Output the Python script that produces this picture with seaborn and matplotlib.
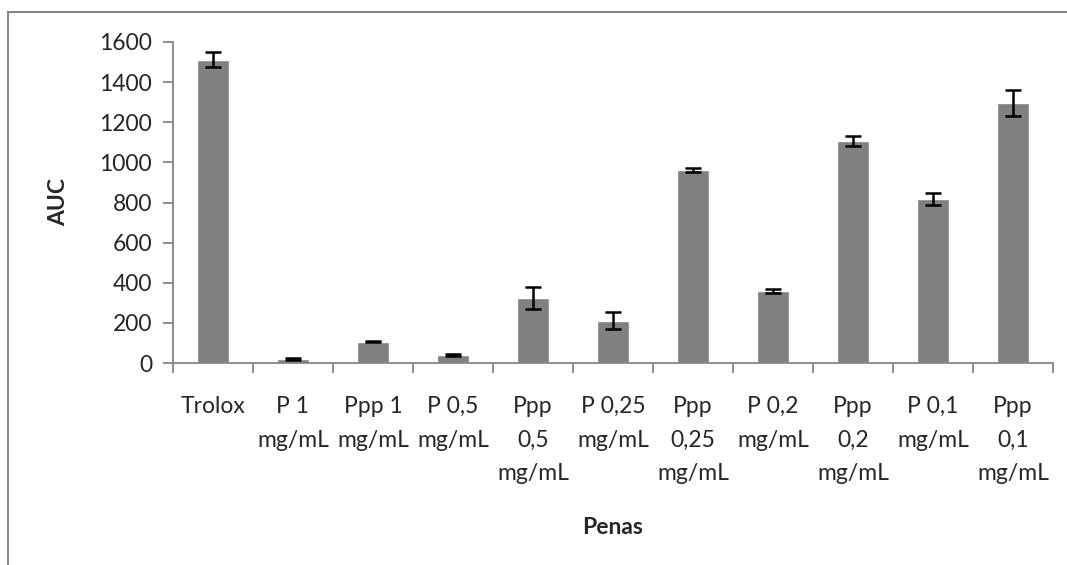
import matplotlib
matplotlib.use("Agg")
import matplotlib.pyplot as plt
import seaborn as sns
import pandas as pd
from matplotlib.patches import Rectangle

categories = ["Trolox", "P 1\nmg/mL", "Ppp 1\nmg/mL", "P 0,5\nmg/mL", "Ppp\n0,5\nmg/mL",
              "P 0,25\nmg/mL", "Ppp\n0,25\nmg/mL", "P 0,2\nmg/mL", "Ppp\n0,2\nmg/mL",
              "P 0,1\nmg/mL", "Ppp\n0,1\nmg/mL"]
auc = [1512, 20, 107, 42, 325, 211, 962, 359, 1107, 817, 1295]
auc_err = [37, 4, 4, 5, 55, 42, 10, 8, 25, 28, 66]
yticks = [0, 200, 400, 600, 800, 1000, 1200, 1400, 1600]

sns.set_style("white")
plt.rcParams['font.family'] = ['Lato', 'DejaVu Sans']

fig = plt.figure(figsize=(10.67, 5.65), dpi=100)
ax = fig.add_axes([173/1067, 1-363/565, (1053-173)/1067, (363-42)/565])

df = pd.DataFrame({"cat": categories, "auc": auc})
sns.barplot(data=df, x="cat", y="auc", color="#808080", saturation=1, width=0.4,
            errorbar=None, ax=ax)
ax.errorbar(range(len(categories)), auc, yerr=auc_err, fmt="none", ecolor="black",
            elinewidth=1.8, capsize=6, capthick=1.8, zorder=5)

grey = "#868686"
ax.set_ylim(0, 1600)
ax.set_xlim(-0.5, len(categories)-0.5)
ax.set_yticks(yticks)
ax.set_yticklabels([str(v) for v in yticks], fontsize=16.5)
for s in ["top", "right"]:
    ax.spines[s].set_visible(False)
for s in ["left", "bottom"]:
    ax.spines[s].set_color(grey)
    ax.spines[s].set_linewidth(1.3)
ax.tick_params(axis="y", which="major", direction="out", length=7, width=1.3,
               color=grey, left=True, pad=8)
ax.set_xticks(range(len(categories)))
ax.set_xticklabels(categories, fontsize=16.5, linespacing=1.72, va="top")
ax.tick_params(axis="x", which="major", length=0, pad=24)
ax.set_xticks([i - 0.5 for i in range(len(categories)+1)], minor=True)
ax.tick_params(axis="x", which="minor", direction="out", length=7, width=1.3,
               color=grey, bottom=True)

ax.set_ylabel("AUC", fontsize=16.5, fontweight="bold", labelpad=22)
ax.set_xlabel("Penas", fontsize=16.5, fontweight="bold", labelpad=24)

fig.patches.append(Rectangle((8/1067, -0.2), 1.2, 1.2 - 12/565 + 0.0,
                             transform=fig.transFigure, fill=False,
                             edgecolor=grey, linewidth=1.5))

fig.savefig("out.png", dpi=100)
